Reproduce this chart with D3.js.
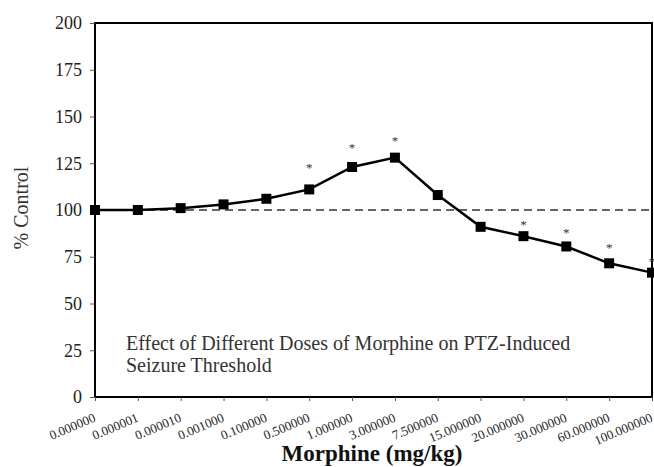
<!DOCTYPE html>
<html><head><meta charset="utf-8">
<script src="https://cdn.jsdelivr.net/npm/d3@7"></script>
<style>body{margin:0;background:#fff}</style>
</head><body>
<svg id="c" width="654" height="467"></svg>
<script>
const doses = ["0.000000","0.000001","0.000010","0.001000","0.100000","0.500000","1.000000","3.000000","7.500000","15.000000","20.000000","30.000000","60.000000","100.000000"];
const pctControl = [100,100,101,103,106,111,123,128,108,91,86,80.5,71.5,66.5];
const starDoses = ["0.500000","1.000000","3.000000","20.000000","30.000000","60.000000","100.000000"];
const starLevels = [123.5,134,138,93,89,80.5,73.5];
const yTicks = [0,25,50,75,100,125,150,175,200];
const baseline = 100;

const svg = d3.select("#c");
const L = 95, R = 652, T = 23, B = 397;
const x = d3.scalePoint().domain(doses).range([L, R]).padding(0);
const y = d3.scaleLinear().domain([0,200]).range([B, T]);

// box
svg.append("rect").attr("x",L).attr("y",T).attr("width",R-L).attr("height",B-T)
  .attr("fill","none").attr("stroke","#000").attr("stroke-width",2);

// y axis
const ya = svg.append("g").attr("transform",`translate(${L},0)`)
  .call(d3.axisLeft(y).tickValues(yTicks).tickSize(5).tickPadding(8));
ya.select(".domain").remove();
ya.selectAll(".tick line").attr("stroke","#555");
ya.selectAll("text").attr("font-family","Liberation Serif").attr("font-size",18).attr("fill","#222");

// x axis
const xa = svg.append("g").attr("transform",`translate(0,${B})`)
  .call(d3.axisBottom(x).tickSize(4).tickPadding(0));
xa.select(".domain").remove();
xa.selectAll(".tick line").attr("stroke","#555");
xa.selectAll("text").attr("font-family","Liberation Serif").attr("font-size",13).attr("fill","#222")
  .attr("text-anchor","end").attr("y",0).attr("dy","0").attr("dx","0")
  .attr("transform","translate(1,24) rotate(-23)");

// baseline dashed
svg.append("line").attr("x1",L).attr("x2",R).attr("y1",y(baseline)).attr("y2",y(baseline))
  .attr("stroke","#666").attr("stroke-width",2).attr("stroke-dasharray","8,5");

// line
svg.append("path").datum(pctControl.map((v,i)=>[doses[i],v]))
  .attr("d", d3.line().x(d=>x(d[0])).y(d=>y(d[1])))
  .attr("fill","none").attr("stroke","#000").attr("stroke-width",2.5);
svg.selectAll(".pt").data(pctControl).enter().append("rect")
  .attr("x",(d,i)=>x(doses[i])-5).attr("y",d=>y(d)-5).attr("width",10).attr("height",10).attr("fill","#000");

// stars
svg.selectAll(".st").data(starLevels).enter().append("text")
  .attr("x",(d,i)=>x(starDoses[i])).attr("y",d=>y(d)+6).attr("text-anchor","middle")
  .attr("font-family","Liberation Serif").attr("font-size",13).attr("fill","#333").text("*");

// annotation
const ann = svg.append("text").attr("font-family","Liberation Serif").attr("font-size",20).attr("fill","#333");
ann.append("tspan").attr("x",126).attr("y",350).text("Effect of Different Doses of Morphine on PTZ-Induced");
ann.append("tspan").attr("x",126).attr("y",372).text("Seizure Threshold");

// titles
svg.append("text").attr("x",372).attr("y",461).attr("text-anchor","middle")
  .attr("font-family","Liberation Serif").attr("font-weight","bold").attr("font-size",23).attr("fill","#111")
  .text("Morphine (mg/kg)");
svg.append("text").attr("transform","translate(28,208) rotate(-90)").attr("text-anchor","middle")
  .attr("font-family","Liberation Serif").attr("font-size",20).attr("fill","#333").text("% Control");
</script>
</body></html>
